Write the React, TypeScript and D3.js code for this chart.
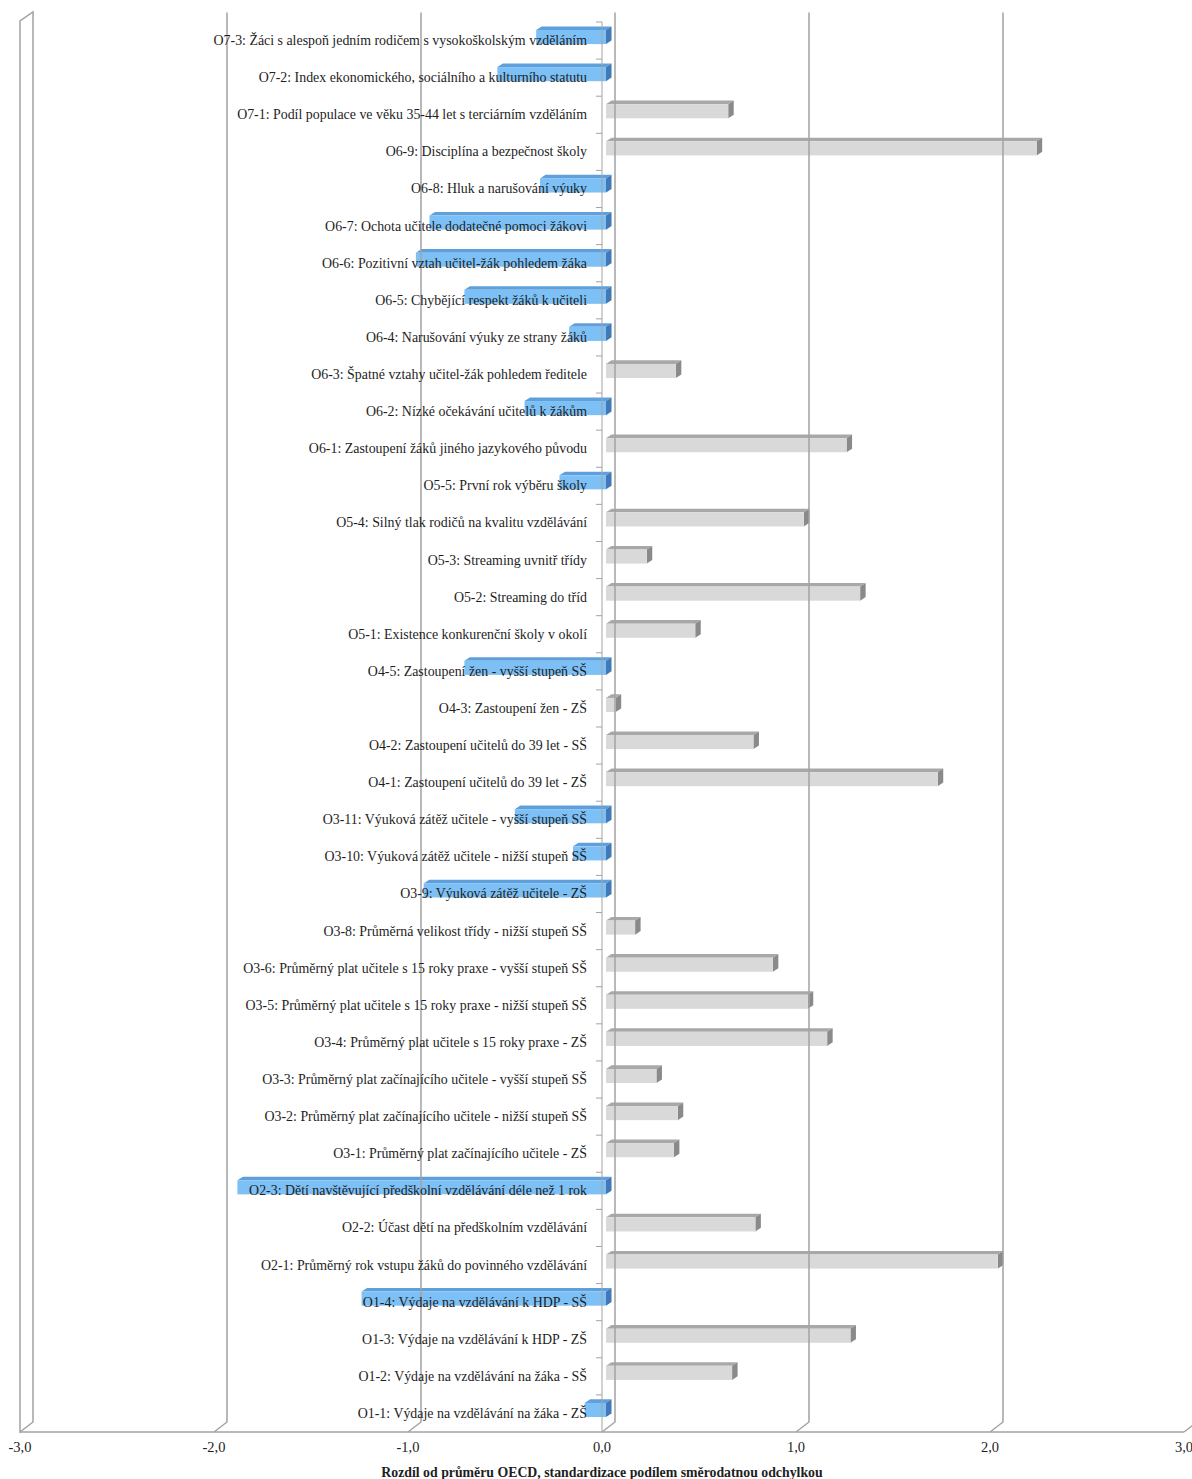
import React from "react";
import * as d3 from "d3";

// categories from top to bottom
const categories = [
  "O7-3: Žáci s alespoň jedním rodičem s vysokoškolským vzděláním",
  "O7-2: Index ekonomického, sociálního a kulturního statutu",
  "O7-1: Podíl populace ve věku 35-44 let  s terciárním vzděláním",
  "O6-9: Disciplína a bezpečnost školy",
  "O6-8: Hluk a narušování výuky",
  "O6-7: Ochota učitele dodatečné pomoci žákovi",
  "O6-6: Pozitivní vztah učitel-žák pohledem žáka",
  "O6-5: Chybějící respekt žáků k učiteli",
  "O6-4: Narušování výuky ze strany žáků",
  "O6-3: Špatné vztahy učitel-žák pohledem ředitele",
  "O6-2: Nízké očekávání učitelů k žákům",
  "O6-1: Zastoupení žáků jiného jazykového původu",
  "O5-5: První rok výběru školy",
  "O5-4: Silný tlak rodičů na kvalitu vzdělávání",
  "O5-3: Streaming uvnitř třídy",
  "O5-2: Streaming do tříd",
  "O5-1: Existence konkurenční školy v okolí",
  "O4-5: Zastoupení žen - vyšší stupeň SŠ",
  "O4-3: Zastoupení žen - ZŠ",
  "O4-2: Zastoupení učitelů do 39 let - SŠ",
  "O4-1: Zastoupení učitelů do 39 let - ZŠ",
  "O3-11: Výuková zátěž učitele - vyšší stupeň SŠ",
  "O3-10: Výuková zátěž učitele - nižší stupeň SŠ",
  "O3-9: Výuková zátěž učitele - ZŠ",
  "O3-8: Průměrná velikost třídy - nižší stupeň SŠ",
  "O3-6: Průměrný plat učitele s 15 roky praxe - vyšší stupeň SŠ",
  "O3-5: Průměrný plat učitele s 15 roky praxe - nižší stupeň SŠ",
  "O3-4: Průměrný plat učitele s 15 roky praxe - ZŠ",
  "O3-3: Průměrný plat začínajícího učitele - vyšší stupeň SŠ",
  "O3-2: Průměrný plat začínajícího učitele - nižší stupeň SŠ",
  "O3-1: Průměrný plat začínajícího učitele - ZŠ",
  "O2-3: Dětí navštěvující předškolní vzdělávání déle než 1 rok",
  "O2-2: Účast dětí na předškolním vzdělávání",
  "O2-1: Průměrný rok vstupu žáků do povinného vzdělávání",
  "O1-4: Výdaje na vzdělávání k HDP - SŠ",
  "O1-3: Výdaje na vzdělávání k HDP - ZŠ",
  "O1-2: Výdaje na vzdělávání na žáka - SŠ",
  "O1-1: Výdaje na vzdělávání na žáka - ZŠ",
];

const values = [
  -0.36, -0.56, 0.63, 2.22, -0.34, -0.91, -0.98, -0.73, -0.19, 0.36,
  -0.42, 1.24, -0.24, 1.02, 0.21, 1.31, 0.46, -0.73, 0.05, 0.76,
  1.71, -0.47, -0.17, -0.94, 0.15, 0.86, 1.04, 1.14, 0.26, 0.37,
  0.35, -1.9, 0.77, 2.02, -1.26, 1.26, 0.65, -0.11,
];

const xTicks = [-3, -2, -1, 0, 1, 2, 3];
const axisTitle = "Rozdíl od průměru OECD, standardizace podílem směrodatnou odchylkou";

const W = 1192;
const H = 1479;

// oblique 3D offsets
const DEPTH = { dx: 13, dy: -10 };
const BAR_FRONT = { dx: 4, dy: -3.5 };
const BAR_DEPTH = { dx: 5.5, dy: -3.6 };

const grid = "#a3a3a3";
const serif = "'Liberation Serif', 'Times New Roman', serif";

export default function App() {
  const x = d3.scaleLinear().domain([-3, 3]).range([20, 1184]);
  const y = d3.scaleBand<string>().domain(categories).range([22, 1432]).padding(0);
  const fmt = (v: number) => d3.format(".1f")(v).replace(".", ",").replace("−", "-");

  const top = y.range()[0];
  const floor = y.range()[1];
  const bh = y.bandwidth() * 0.38;

  const bars = categories.map((c, i) => {
    const v = values[i];
    const xa = x(0) + BAR_FRONT.dx;
    const xb = x(v) + BAR_FRONT.dx;
    const x0 = Math.min(xa, xb);
    const x1 = Math.max(xa, xb);
    const yc = (y(c) as number) + y.bandwidth() / 2 + BAR_FRONT.dy;
    const yt = yc - bh / 2;
    const neg = v < 0;
    const col = neg
      ? { front: "#7cc0f6", top: "#5e9fdc", side: "#3f79b6" }
      : { front: "#d9d9d9", top: "#a8a8a8", side: "#8a8a8a" };
    const { dx, dy } = BAR_DEPTH;
    return (
      <g key={c}>
        <polygon
          points={`${x0},${yt} ${x1},${yt} ${x1 + dx},${yt + dy} ${x0 + dx},${yt + dy}`}
          fill={col.top}
        />
        <polygon
          points={`${x1},${yt} ${x1 + dx},${yt + dy} ${x1 + dx},${yt + dy + bh} ${x1},${yt + bh}`}
          fill={col.side}
        />
        <rect x={x0} y={yt} width={x1 - x0} height={bh} fill={col.front} />
      </g>
    );
  });

  const gridLines = xTicks.map((t) => {
    const xf = x(t);
    const xbk = xf + DEPTH.dx;
    return (
      <path
        key={t}
        d={`M${xbk},${top + DEPTH.dy + 0.5} L${xbk},${floor + DEPTH.dy} L${xf},${floor}`}
        fill="none"
        stroke={grid}
        strokeWidth={1.5}
      />
    );
  });

  const xl = x(-3);
  const wall = `M${xl},${floor} L${xl},${top - 1} L${xl + DEPTH.dx},${top + DEPTH.dy} L${xl + DEPTH.dx},${floor + DEPTH.dy} Z`;

  return (
    <svg
      width={W}
      height={H}
      style={{ position: "absolute", left: 0, top: 0, background: "#fff" }}
    >
      <rect width={W} height={H} fill="#fff" />
      <path d={wall} fill="#fff" stroke={grid} strokeWidth={1.5} />
      {bars}
      {gridLines.slice(1)}
      {/* floor front edge */}
      <line x1={x(-3)} x2={x(3)} y1={floor} y2={floor} stroke={grid} strokeWidth={1.5} />
      {/* category axis */}
      <line x1={x(0)} x2={x(0)} y1={top} y2={floor} stroke={grid} strokeWidth={1} />
      {categories.map((c) => (
        <line
          key={"t" + c}
          x1={x(0) - 6}
          x2={x(0)}
          y1={y(c) as number}
          y2={y(c) as number}
          stroke={grid}
          strokeWidth={1}
        />
      ))}
      {categories.map((c) => (
        <text
          key={"l" + c}
          x={587}
          y={(y(c) as number) + y.bandwidth() / 2 + 4.5}
          textAnchor="end"
          fontFamily={serif}
          fontSize={13.9}
          fill="#1e1e1e"
        >
          {c}
        </text>
      ))}
      {xTicks.map((t) => (
        <text
          key={"x" + t}
          x={x(t)}
          y={floor + 20}
          textAnchor="middle"
          fontFamily={serif}
          fontSize={14.5}
          fill="#1e1e1e"
        >
          {fmt(t)}
        </text>
      ))}
      <text
        x={x(0)}
        y={floor + 45}
        textAnchor="middle"
        fontFamily={serif}
        fontSize={13.8}
        fontWeight="bold"
        fill="#1e1e1e"
      >
        {axisTitle}
      </text>
    </svg>
  );
}
